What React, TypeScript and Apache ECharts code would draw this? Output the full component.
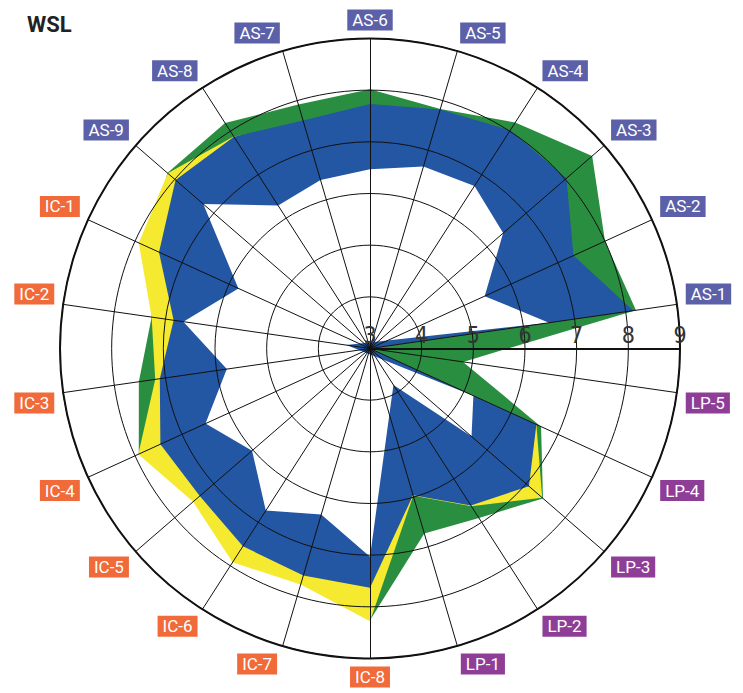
import React, { useEffect, useRef } from 'react';
import * as echarts from 'echarts';

// Indicator order (counter-clockwise, starting at AS-1 just above the horizontal axis)
const indicators = [
  'AS-1', 'AS-2', 'AS-3', 'AS-4', 'AS-5', 'AS-6', 'AS-7', 'AS-8', 'AS-9',
  'IC-1', 'IC-2', 'IC-3', 'IC-4', 'IC-5', 'IC-6', 'IC-7', 'IC-8',
  'LP-1', 'LP-2', 'LP-3', 'LP-4', 'LP-5',
];

// Outer (green) polygon
const greenValues = [
  8.2, 8.0, 8.69, 8.2, 7.83, 8.02, 7.92, 8.19, 8.19,
  7.7, 7.27, 7.52, 7.92, 7.2, 7.3, 7.4, 8.26,
  6.73, 6.9, 7.43, 6.64, 4.82,
];
// Yellow polygon
const yellowValues = [
  8.0, 7.2, 7.9, 7.9, 7.7, 7.6, 7.5, 7.88, 8.18,
  7.92, 7.27, 7.2, 7.93, 7.53, 7.92, 7.76, 8.28,
  5.97, 6.63, 7.41, 6.54, 3.0,
];
// Blue polygon
const blueValues = [
  8.15, 7.33, 8.03, 8.02, 7.82, 7.73, 7.6, 7.87, 7.98,
  7.49, 6.84, 7.11, 7.46, 7.36, 7.55, 7.58, 7.63,
  5.96, 6.61, 7.07, 6.54, 3.0,
];
// Inner (white) polygon
const innerValues = [
  6.5, 5.44, 6.41, 6.74, 6.67, 6.47, 6.4, 6.29, 7.27,
  5.8, 6.65, 5.8, 6.5, 6.02, 6.73, 6.35, 7.03,
  4.33, 3.84, 5.6, 5.2, 2.54,
];

const scaleMin = 3;
const scaleMax = 9;
const scaleStep = 1;

const seriesColors = ['#2a8e40', '#f5ea2f', '#2356a3', '#ffffff'];
const groupColors: Record<string, string> = { AS: '#5c60a8', IC: '#f06a3a', LP: '#8e3e96' };

const CX = 370;
const CY = 348.5;
const R = 310;
const LABEL_MARGIN = 9;

export default function App() {
  const ref = useRef<HTMLDivElement>(null);

  useEffect(() => {
    if (!ref.current) return;
    const chart = echarts.init(ref.current, undefined, { renderer: 'svg' });

    const n = indicators.length;
    // Polar angle-axis categories run clockwise from 0°, i.e. reversed indicator order
    const angleCats = [...indicators].reverse();
    const catData = angleCats.map((name, i) => {
      const ang = (-(i + 0.5) * 360) / n * Math.PI / 180;
      const c = Math.cos(ang);
      const s = Math.sin(ang);
      const rr = R + LABEL_MARGIN;
      let padding: number[] = [0, 0, 0, 0];
      if (Math.abs(c * rr) / R < 0.3 && Math.abs(c) > 0.01) {
        padding = c > 0 ? [0, 0, 0, 46] : [0, 46, 0, 0];
      } else if (Math.abs(s * rr) / R < 0.3) {
        padding = s > 0 ? [0, 0, 18, 0] : [18, 0, 0, 0];
      }
      return { value: name, textStyle: { padding } };
    });

    const richBox = (bg: string) => ({
      color: '#ffffff',
      backgroundColor: bg,
      fontSize: 17,
      lineHeight: 19,
      padding: [2, 5],
      fontFamily: 'Roboto, sans-serif',
    });

    const option: any = {
      animation: false,
      backgroundColor: '#ffffff',
      title: {
        text: 'WSL',
        left: 22,
        top: 8,
        textStyle: { fontSize: 22, fontWeight: 'bold', color: '#222', fontFamily: 'Roboto, sans-serif' },
      },
      radar: {
        center: [CX, CY],
        radius: R,
        startAngle: 90 - (5 * 360) / n,
        shape: 'circle',
        splitNumber: (scaleMax - scaleMin) / scaleStep,
        z: 3,
        indicator: indicators.map((name) => ({ name, min: scaleMin, max: scaleMax })),
        axisName: { show: false },
        axisLine: { lineStyle: { color: '#111', width: 1 } },
        splitLine: { lineStyle: { color: '#111', width: 1 } },
        splitArea: { show: false },
      },
      polar: { center: [CX, CY], radius: R },
      angleAxis: {
        type: 'category',
        data: catData,
        startAngle: 0,
        clockwise: true,
        boundaryGap: true,
        z: 4,
        axisLine: { show: true, lineStyle: { color: '#111', width: 2 } },
        axisTick: { show: false },
        splitLine: { show: false },
        splitArea: { show: false },
        axisLabel: {
          interval: 0,
          margin: LABEL_MARGIN,
          formatter: (v: string) => `{${v.slice(0, 2)}|${v}}`,
          rich: {
            AS: richBox(groupColors.AS),
            IC: richBox(groupColors.IC),
            LP: richBox(groupColors.LP),
          },
        },
      },
      radiusAxis: {
        type: 'value',
        min: scaleMin,
        max: scaleMax,
        interval: scaleStep,
        z: 4,
        axisLine: { show: true, lineStyle: { color: '#111', width: 2 } },
        axisTick: { show: false },
        splitLine: { show: false },
        axisLabel: {
          show: true,
          margin: 2,
          showMinLabel: true,
          showMaxLabel: true,
          color: '#333',
          fontSize: 23,
          fontFamily: "'Liberation Sans Narrow', 'DejaVu Sans Condensed', Roboto, sans-serif",
        },
      },
      series: [greenValues, yellowValues, blueValues, innerValues].map((vals, i) => ({
        type: 'radar',
        z: 2,
        silent: true,
        symbol: 'none',
        lineStyle: { width: 0, opacity: 0 },
        itemStyle: { color: seriesColors[i] },
        areaStyle: { color: seriesColors[i], opacity: 1 },
        data: [{ value: vals }],
      })),
    };

    chart.setOption(option);
    return () => chart.dispose();
  }, []);

  return (
    <div
      ref={ref}
      style={{ position: 'absolute', left: 0, top: 0, width: 743, height: 693 }}
    />
  );
}
